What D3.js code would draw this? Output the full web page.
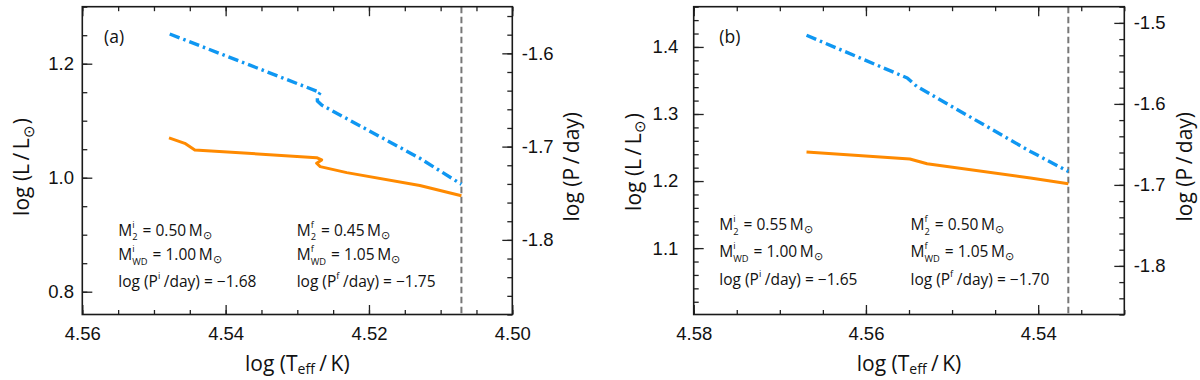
<!DOCTYPE html>
<html>
<head>
<meta charset="utf-8">
<script src="https://cdn.jsdelivr.net/npm/d3@7"></script>
<style>
  body { margin: 0; background: #fff; }
  svg { display: block; }
  .tick text { font-family: "Liberation Sans", Arial, sans-serif; font-size: 18.5px; fill: #111; }
  .tick line { stroke: #222; stroke-width: 1.3; }
  .rt { font-family: "Open Sans", "Liberation Sans", sans-serif; fill: #111; white-space: pre; }
</style>
</head>
<body>
<svg id="chart" width="1200" height="380"></svg>
<script>
// ---- panel (a) ----
var teffOrangeA = [4.5479, 4.5457, 4.5443, 4.5273, 4.5266, 4.5273, 4.5268, 4.5231, 4.5129, 4.5071];
var lumOrangeA  = [1.0700, 1.0603, 1.0486, 1.0351, 1.0311, 1.0253, 1.0194, 1.0089, 0.9862, 0.9682];
var teffBlueA   = [4.5478, 4.5268, 4.5272, 4.5272, 4.5266, 4.5129, 4.5071];
var perBlueA    = [-1.5793, -1.6420, -1.6466, -1.6510, -1.6554, -1.7125, -1.7404];
var cutoffA     = 4.5071;
var teffDomainA = [4.56, 4.50];
var lumDomainA  = [0.76, 1.30];
var perDomainA  = [-1.88, -1.55];
var teffTicksA  = [4.56, 4.54, 4.52, 4.50];
var lumTicksA   = [0.8, 1.0, 1.2];
var perTicksA   = [-1.8, -1.7, -1.6];
var initialA    = ["0.50", "1.00", "\u22121.68"];
var finalA      = ["0.45", "1.05", "\u22121.75"];

// ---- panel (b) ----
var teffOrangeB = [4.5669, 4.5549, 4.5529, 4.5409, 4.5365];
var lumOrangeB  = [1.2433, 1.2328, 1.2258, 1.2045, 1.1960];
var teffBlueB   = [4.5669, 4.5552, 4.5541, 4.5409, 4.5365];
var perBlueB    = [-1.5153, -1.5680, -1.5784, -1.6587, -1.6834];
var cutoffB     = 4.5365;
var teffDomainB = [4.58, 4.53];
var lumDomainB  = [1.001, 1.46];
var perDomainB  = [-1.86, -1.48];
var teffTicksB  = [4.58, 4.56, 4.54];
var lumTicksB   = [1.1, 1.2, 1.3, 1.4];
var perTicksB   = [-1.8, -1.7, -1.6, -1.5];
var initialB    = ["0.55", "1.00", "\u22121.65"];
var finalB      = ["0.50", "1.05", "\u22121.70"];

var svg = d3.select("#chart");
var SUN = "\u2299", TH = "\u2009";

// one <text> built from tspans, stacked super/subscripts share an x; returns width
function rich(g, x, y, parts, size) {
  var cx = x;
  var text = g.append("text").attr("class", "rt").attr("xml:space", "preserve")
    .style("font-size", size + "px");
  function span(str, sx, sy, fs) {
    var s = text.append("tspan").attr("x", sx).attr("y", sy).style("font-size", fs + "px").text(str);
    return s.node().getComputedTextLength();
  }
  parts.forEach(function (p) {
    if (p.t !== undefined) {
      cx += span(p.t, cx, y, size);
    } else {
      var w = 0, s = size * 0.6;
      if (p.sup) w = Math.max(w, span(p.sup, cx, y - size * 0.5, s));
      if (p.sub) w = Math.max(w, span(p.sub, cx, y + size * (p.low || 0.32), p.subSize || s));
      cx += w + 1;
    }
  });
  return cx - x;
}

function centered(cx, cy, rotate, parts, size) {
  var g = svg.append("g");
  var inner = g.append("g");
  var w = rich(inner, 0, 0, parts, size);
  inner.attr("transform", "translate(" + (-w / 2) + ",0)");
  g.attr("transform", "translate(" + cx + "," + cy + ")" + (rotate ? " rotate(" + rotate + ")" : ""));
}

function minorTicks(domain, step) {
  var lo = Math.min(domain[0], domain[1]), hi = Math.max(domain[0], domain[1]);
  return d3.range(Math.ceil(lo / step - 1e-6), Math.floor(hi / step + 1e-6) + 1)
    .map(function (k) { return +(k * step).toFixed(4); });
}

function drawPanel(p) {
  var top = 6.7, bottom = 314.5;
  var x = d3.scaleLinear().domain(p.teffDomain).range([p.left, p.right]);
  var yL = d3.scaleLinear().domain(p.lumDomain).range([bottom, top]);
  var yR = d3.scaleLinear().domain(p.perDomain).range([bottom, top]);
  var g = svg.append("g");

  function axis(ax, tr, vals, size, fmt, pad) {
    var a = ax.tickValues(vals).tickSizeInner(-size).tickSizeOuter(0).tickPadding(pad || 3)
      .tickFormat(fmt || "");
    var sel = g.append("g").attr("transform", tr).call(a);
    sel.select(".domain").remove();
    return sel;
  }

  var xMinor = minorTicks(p.teffDomain, 0.005);
  axis(d3.axisBottom(x), "translate(0," + bottom + ")", xMinor, 4.5);
  axis(d3.axisTop(x), "translate(0," + top + ")", xMinor, 4.5);
  axis(d3.axisBottom(x), "translate(0," + bottom + ")", p.teffTicks, 9.5,
    function (d) { return d.toFixed(2); }, 12.7);
  axis(d3.axisTop(x), "translate(0," + top + ")", p.teffTicks, 9.5);

  axis(d3.axisLeft(yL), "translate(" + p.left + ",0)", minorTicks(p.lumDomain, p.lumMinor), 5);
  axis(d3.axisLeft(yL), "translate(" + p.left + ",0)", p.lumTicks, 10,
    function (d) { return d.toFixed(1); }, p.leftPad);

  axis(d3.axisRight(yR), "translate(" + p.right + ",0)", minorTicks(p.perDomain, 0.02), 5);
  axis(d3.axisRight(yR), "translate(" + p.right + ",0)", p.perTicks, 10,
    function (d) { return d.toFixed(1); }, 9.4);

  // cutoff marker
  g.append("line")
    .attr("x1", x(p.cutoff)).attr("x2", x(p.cutoff))
    .attr("y1", top).attr("y2", bottom)
    .attr("stroke", "#777").attr("stroke-width", 2).attr("stroke-dasharray", "6.5,3.5");

  var lum = d3.line().x(function (d) { return x(d[0]); }).y(function (d) { return yL(d[1]); });
  var per = d3.line().x(function (d) { return x(d[0]); }).y(function (d) { return yR(d[1]); });

  g.append("path")
    .attr("d", lum(d3.zip(p.teffOrange, p.lumOrange)))
    .attr("fill", "none").attr("stroke", "#ff8a00").attr("stroke-width", 3)
    .attr("stroke-linejoin", "round");

  g.append("path")
    .attr("d", per(d3.zip(p.teffBlue, p.perBlue)))
    .attr("fill", "none").attr("stroke", "#0f97f2").attr("stroke-width", 3.4)
    .attr("stroke-linejoin", "round").attr("stroke-dasharray", "10.5,4,2.5,4");

  g.append("rect")
    .attr("x", p.left).attr("y", top)
    .attr("width", p.right - p.left).attr("height", bottom - top)
    .attr("fill", "none").attr("stroke", "#1a1a1a").attr("stroke-width", 1.6);

  // panel letter
  rich(g, p.letterX, 42.7, [{ t: p.letter }], 17.5);

  // annotations
  var cols = [[p.initial, "i", p.col1], [p.final, "f", p.col2]];
  cols.forEach(function (c) {
    var v = c[0], s = c[1], cx = c[2];
    rich(g, cx, p.rows[0], [{ t: "M" }, { sup: s, sub: "2" }, { t: " = " + v[0] + TH + "M" }, { sub: SUN, low: 0.2, subSize: 11 }], 15.5);
    rich(g, cx, p.rows[1], [{ t: "M" }, { sup: s, sub: "WD" }, { t: " = " + v[1] + TH + "M" }, { sub: SUN, low: 0.2, subSize: 11 }], 15.5);
    rich(g, cx, p.rows[2], [{ t: "log (P" }, { sup: s }, { t: TH + "/day) = " + v[2] }], 15.5);
  });

  // axis titles
  centered((p.left + p.right) / 2, 371, 0,
    [{ t: "log (T" }, { sub: "eff", low: 0.16, subSize: 14 }, { t: TH + "/" + TH + "K)" }], 21);
  centered(p.leftTitleX, p.leftTitleY, -90,
    [{ t: "log (L" + TH + "/" + TH + "L" }, { sub: SUN, low: 0.22, subSize: 15 }, { t: ")" }], 21);
  centered(p.rightTitleX, 166.7, -90,
    [{ t: "log (P" + TH + "/" + TH + "day)" }], 21);
}

drawPanel({
  left: 82.3, right: 512.3, letter: "(a)", letterX: 104,
  teffDomain: teffDomainA, lumDomain: lumDomainA, perDomain: perDomainA,
  teffTicks: teffTicksA, lumTicks: lumTicksA, perTicks: perTicksA, lumMinor: 0.05,
  teffOrange: teffOrangeA, lumOrange: lumOrangeA, teffBlue: teffBlueA, perBlue: perBlueA,
  cutoff: cutoffA, initial: initialA, final: finalA,
  col1: 118.3, col2: 296.7, rows: [235.5, 260, 287],
  leftPad: 8.3, leftTitleX: 29, leftTitleY: 167, rightTitleX: 579
});

drawPanel({
  left: 693.7, right: 1124.3, letter: "(b)", letterX: 719.3,
  teffDomain: teffDomainB, lumDomain: lumDomainB, perDomain: perDomainB,
  teffTicks: teffTicksB, lumTicks: lumTicksB, perTicks: perTicksB, lumMinor: 0.02,
  teffOrange: teffOrangeB, lumOrange: lumOrangeB, teffBlue: teffBlueB, perBlue: perBlueB,
  cutoff: cutoffB, initial: initialB, final: finalB,
  col1: 719.3, col2: 910.5, rows: [230, 257, 285],
  leftPad: 15.4, leftTitleX: 640.5, leftTitleY: 162, rightTitleX: 1192
});
</script>
</body>
</html>
